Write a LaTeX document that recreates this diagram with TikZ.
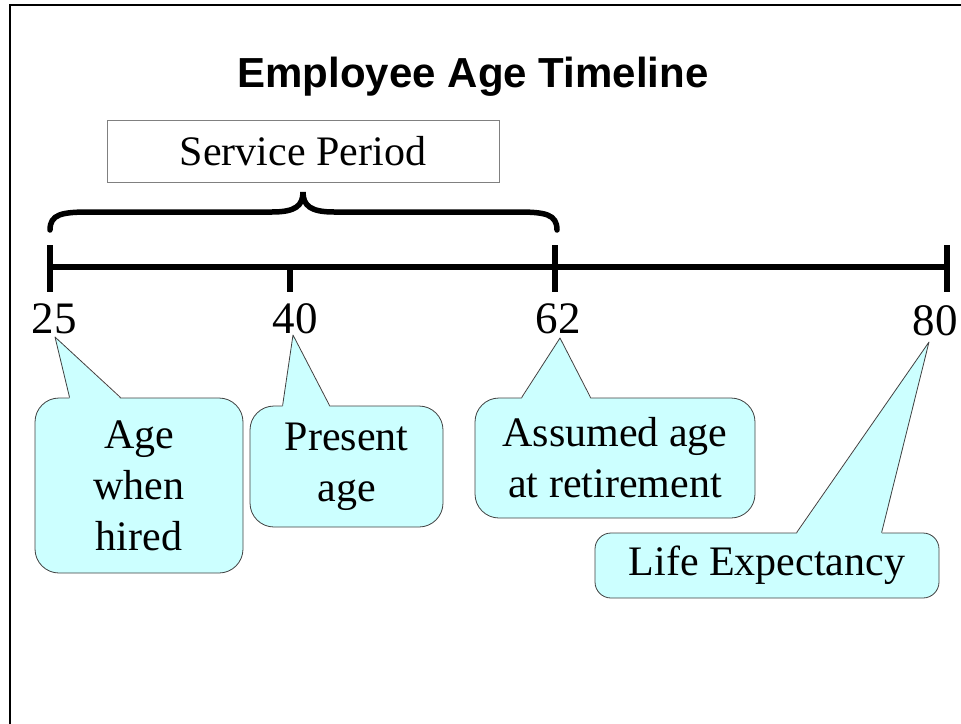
\documentclass[tikz,border=0pt]{standalone}
\usepackage{fontspec}
\setmainfont{Liberation Serif}
\newfontfamily\titlefont{Liberation Sans}
\definecolor{callcyan}{HTML}{CCFFFF}

\begin{document}
\begin{tikzpicture}
[x=1pt,y=-1pt,
 every node/.style={font=\fontsize{42}{51}\selectfont},
 frame/.style = {line width=2.5pt},
 axis/.style = {line width=5.5pt},
 curly/.style = {line width=5.5pt,line cap=round},
 num/.style = {font=\fontsize{45}{50}\selectfont,anchor=base,inner sep=0pt},
 periodbox/.style = {rectangle,draw=black!50,line width=1pt,inner sep=0pt,
        minimum width=392pt,minimum height=62pt},
 callout/.style = {rectangle,rounded corners=24pt,draw=black!75,line width=0.8pt,
        fill=callcyan,align=center,inner sep=0pt},
 wedge/.style = {fill=callcyan},
 wedgeline/.style = {draw=black!75,line width=0.8pt,line join=round}]
%[place/.style={shape=ellipse}]

\useasboundingbox (0,0) rectangle (961,723);
\clip (0,0) rectangle (961,723);
\draw[frame] (10,5) rectangle (990,750);

\node[font=\titlefont\bfseries\fontsize{42}{50}\selectfont,anchor=base] (title) at (473,87) {Employee Age Timeline};
\node[periodbox] (service) at (303,151) {Service Period};

   \draw[curly] (50,230) .. controls (50,214) and (62,212) .. (90,212) -- (272,212)
      .. controls (295,212) and (303,206) .. (303,192)
      .. controls (303,206) and (311,212) .. (334,212) -- (517,212)
      .. controls (545,212) and (557,214) .. (557,230);

   \coordinate (t25) at (50,267);
   \coordinate (t40) at (290,267);
   \coordinate (t62) at (555,267);
   \coordinate (t80) at (947,267);
   \draw[axis] (t25) -- (t80);
   \draw[axis] (50,245) -- (50,292);
   \draw[axis] (290,267) -- (290,292);
   \draw[axis] (555,245) -- (555,292);
   \draw[axis] (947,245) -- (947,292);

   \node[num] (n25) at (54,333) {25};
   \node[num] (n40) at (295,333) {40};
   \node[num] (n62) at (558,333) {62};
   \node[num] (n80) at (935,335) {80};

   \coordinate (tip25) at (55,337);
   \coordinate (tip40) at (293,335);
   \coordinate (tip62) at (560,338);
   \coordinate (tip80) at (929,342);

\node[callout,minimum width=208pt,minimum height=175pt] (hired) at (139,485.5) {Age\\when\\hired};
\node[callout,minimum width=193pt,minimum height=121pt] (present) at (346.5,466.5) {Present\\age};
\node[callout,minimum width=280pt,minimum height=120pt] (retire) at (615,458) {Assumed age\\at retirement};
\node[callout,minimum width=344pt,minimum height=65pt,rounded corners=16pt] (life) at (767,565.5) {Life Expectancy};

   \fill[wedge] (tip25) -- ([xshift=35pt,yshift=-1.5pt]hired.north west) -- ([xshift=86pt,yshift=-1.5pt]hired.north west) -- cycle;
   \draw[wedgeline] ([xshift=35pt]hired.north west) -- (tip25) -- ([xshift=86pt]hired.north west);
   \fill[wedge] (tip40) -- ([xshift=33pt,yshift=-1.5pt]present.north west) -- ([xshift=80pt,yshift=-1.5pt]present.north west) -- cycle;
   \draw[wedgeline] ([xshift=33pt]present.north west) -- (tip40) -- ([xshift=80pt]present.north west);
   \fill[wedge] (tip62) -- ([xshift=47pt,yshift=-1.5pt]retire.north west) -- ([xshift=116pt,yshift=-1.5pt]retire.north west) -- cycle;
   \draw[wedgeline] ([xshift=47pt]retire.north west) -- (tip62) -- ([xshift=116pt]retire.north west);
   \fill[wedge] (tip80) -- ([xshift=202pt,yshift=-1.5pt]life.north west) -- ([xshift=287pt,yshift=-1.5pt]life.north west) -- cycle;
   \draw[wedgeline] ([xshift=202pt]life.north west) -- (tip80) -- ([xshift=287pt]life.north west);
\end{tikzpicture}
\end{document}
